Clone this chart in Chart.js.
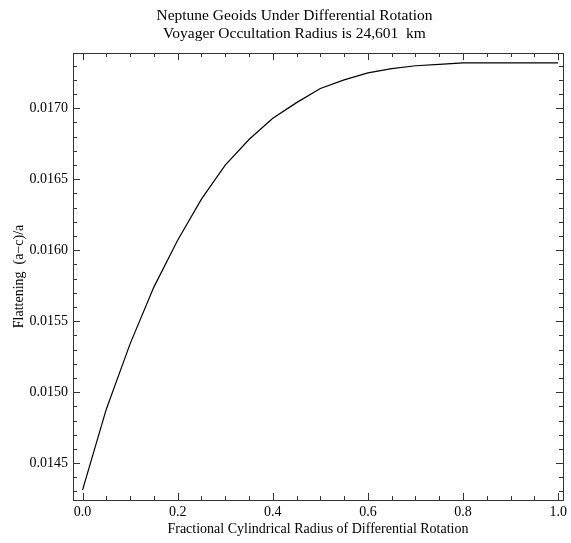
<!DOCTYPE html>
<html>
<head>
<meta charset="utf-8">
<script src="https://cdn.jsdelivr.net/npm/chart.js@4"></script>
<style>
  html, body { margin: 0; padding: 0; background: #fff; }
</style>
</head>
<body>
<canvas id="geoidChart" width="571" height="543"></canvas>
<script>
// fractional cylindrical radius of differential rotation
const radius = [0, 0.05, 0.10, 0.15, 0.20, 0.25, 0.30, 0.35, 0.40, 0.45, 0.50,
                0.55, 0.60, 0.65, 0.70, 0.75, 0.80, 0.85, 0.90, 0.95, 1.00];
const flattening = [0.01431, 0.01488, 0.01534, 0.01574, 0.01607, 0.01636, 0.01660,
                    0.01678, 0.01693, 0.01704, 0.01714, 0.01720, 0.01725, 0.01728,
                    0.01730, 0.01731, 0.01732, 0.01732, 0.01732, 0.01732, 0.01732];
const xTicks = [0, 0.2, 0.4, 0.6, 0.8, 1.0];
const yTicks = [0.0145, 0.0150, 0.0155, 0.0160, 0.0165, 0.0170];

const serif = "'Liberation Serif', 'Times New Roman', serif";

// frame box with inward major/minor ticks on all four sides
const frameTicks = {
  id: "frameTicks",
  afterDraw(chart) {
    const { ctx, chartArea: a, scales: { x, y } } = chart;
    ctx.save();
    ctx.strokeStyle = "#333";
    ctx.lineWidth = 1;
    ctx.strokeRect(Math.round(a.left) + 0.5, Math.round(a.top) + 0.5,
                   Math.round(a.right - a.left), Math.round(a.bottom - a.top));
    ctx.beginPath();
    for (let i = 0; i <= 20; i++) {
      const px = Math.round(x.getPixelForValue(i * 0.05)) + 0.5;
      if (px < a.left || px > a.right) continue;
      const len = i % 4 === 0 ? 7 : 4;
      ctx.moveTo(px, a.bottom); ctx.lineTo(px, a.bottom - len);
      ctx.moveTo(px, a.top); ctx.lineTo(px, a.top + len);
    }
    for (let i = 140; i <= 175; i++) {
      const v = i * 0.0001;
      if (v < y.min || v > y.max) continue;
      const py = Math.round(y.getPixelForValue(v)) + 0.5;
      const len = i % 5 === 0 ? 7 : 4;
      ctx.moveTo(a.left, py); ctx.lineTo(a.left + len, py);
      ctx.moveTo(a.right, py); ctx.lineTo(a.right - len, py);
    }
    ctx.stroke();
    ctx.restore();
  }
};

var ctx = document.getElementById("geoidChart").getContext("2d");
var geoidChart = new Chart(ctx, {
  type: "line",
  data: {
    datasets: [{
      data: radius.map((r, i) => ({ x: r, y: flattening[i] })),
      borderColor: "#000",
      borderWidth: 1.2,
      pointRadius: 0,
      tension: 0,
      fill: false,
    }]
  },
  options: {
    responsive: false,
    animation: false,
    devicePixelRatio: 1,
    layout: { padding: { left: 24, right: 6, top: 0, bottom: 0 } },
    plugins: {
      legend: { display: false },
      tooltip: { enabled: false },
      title: {
        display: true,
        text: ["Neptune Geoids Under Differential Rotation", "Voyager Occultation Radius is 24,601  km"],
        color: "#000",
        font: { family: serif, size: 15.5, weight: "normal", lineHeight: 1.16 },
        padding: { top: 7, bottom: 10 },
      },
    },
    scales: {
      x: {
        type: "linear",
        min: -0.02,
        max: 1.01,
        grid: { display: false, drawTicks: false },
        border: { display: false },
        afterBuildTicks: s => { s.ticks = xTicks.map(v => ({ value: v })); },
        afterFit: s => { s.height = 43; },
        ticks: {
          color: "#000",
          font: { family: serif, size: 14 },
          padding: 4,
          maxRotation: 0,
          autoSkip: false,
          callback: v => v.toFixed(1),
        },
        title: {
          display: true,
          text: "Fractional Cylindrical Radius of Differential Rotation",
          color: "#000",
          font: { family: serif, size: 14 },
          padding: { top: 0, bottom: 5 },
        },
      },
      y: {
        type: "linear",
        min: 0.01424,
        max: 0.01739,
        grid: { display: false, drawTicks: false },
        border: { display: false },
        afterBuildTicks: s => { s.ticks = yTicks.map(v => ({ value: v })); },
        afterFit: s => { s.width = 49; },
        ticks: {
          color: "#000",
          font: { family: serif, size: 14 },
          padding: 5,
          autoSkip: false,
          callback: v => v.toFixed(4),
        },
        title: {
          display: true,
          text: "Flattening  (a\u2212c)/a",
          color: "#000",
          font: { family: serif, size: 14 },
          padding: { top: -13.5, bottom: 0 },
        },
      },
    },
  },
  plugins: [frameTicks],
});
</script>
</body>
</html>
